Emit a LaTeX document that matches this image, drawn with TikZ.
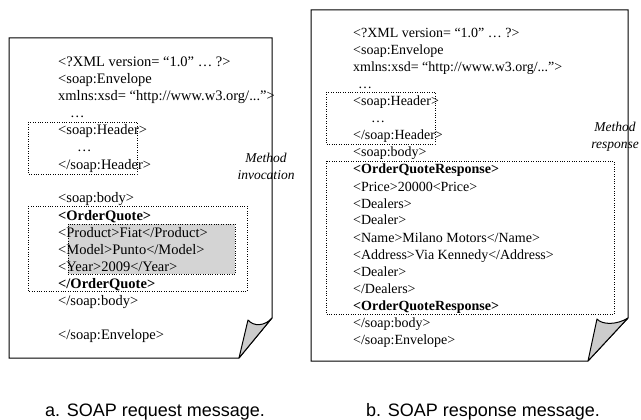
\documentclass[tikz,border=0pt]{standalone}
\usepackage{fontspec}
\setmainfont{Liberation Serif}
\newfontfamily\capfont{Liberation Sans}
\begin{document}
\begin{tikzpicture}[x=1pt, y=-1pt,
    xml/.style={anchor=base west, inner sep=0pt, font=\fontsize{14}{17}\selectfont},
    bigxml/.style={xml, font=\fontsize{14.5}{17}\selectfont},
    note/.style={inner sep=0pt, align=center, font=\fontsize{13.5}{17}\selectfont\itshape},
    caption/.style={anchor=base, inner sep=0pt, font=\fontsize{18}{20}\selectfont\capfont},
    page/.style={draw, line width=1pt, line join=miter},
    fold/.style={draw, line width=1pt, fill=black!20, line join=round},
    part/.style={draw, dotted, thin}]

    \useasboundingbox (0,0) rectangle (641,420);

    % request message
    \draw [page] (9,38) -- (272,38) -- (272,318) -- (239,358) -- (9,358) -- cycle;
    \draw [fold] (239,358) -- (248,320) .. controls (254,327) and (265,326) .. (272,318) -- cycle;

    \draw [part] (28,122) rectangle (137,174);
    \draw [part] (28,206) rectangle (247,291);
    \draw [part, fill=black!17] (68,224) rectangle (235,274);

    \foreach \t [count=\i] in {<?XML version= “1.0” … ?>, <soap:Envelope,
        {xmlns:xsd= “http://www.w3.org/{.}{.}{.}”>}, \hspace{12pt}…,
        <soap:Header>, \hspace{19pt}…, </soap:Header>}
    {
        \node [bigxml] (req\i) at (58, 50+17*\i) {\t};
    }

    \foreach \t [count=\i from 9] in {<soap:body>, \textbf{<OrderQuote>},
        <Product>Fiat</Product>, <Model>Punto</Model>, <Year>2009</Year>,
        \textbf{</OrderQuote>}, </soap:body>}
    {
        \node [bigxml] (req\i) at (58, 50+17*\i) {\t};
    }

    \node [bigxml] (req17) at (58, 339) {</soap:Envelope>};

    \node [note] (invoc) at (266, 166) {Method\\invocation};

    % response message
    \draw [page] (311,10) -- (628,10) -- (628,318) -- (588,361) -- (311,361) -- cycle;
    \draw [fold] (588,361) -- (597,319) .. controls (602,325) and (617,325) .. (628,318) -- cycle;

    \draw [part] (326,92) rectangle (435,144);
    \draw [part] (326,161) rectangle (614,314);

    \foreach \t [count=\i] in {<?XML version= “1.0” … ?>, <soap:Envelope,
        {xmlns:xsd= “http://www.w3.org/{.}{.}{.}”>}, \hspace{5pt}…,
        <soap:Header>, \hspace{18pt}…, </soap:Header>, <soap:body>,
        \textbf{<OrderQuoteResponse>}, <Price>20000<Price>, <Dealers>,
        <Dealer>, <Name>Milano Motors</Name>,
        <Address>Via Kennedy</Address>, <Dealer>, </Dealers>,
        \textbf{<OrderQuoteResponse>}, </soap:body>, </soap:Envelope>}
    {
        \node [xml] (res\i) at (353, 21+17*\i) {\t};
    }

    \node [note] (resp) at (615, 137) {Method\\response};

    \node [caption] (capreq) at (155, 416) {a. SOAP request message.};
    \node [caption] (capres) at (483, 416) {b. SOAP response message.};

\end{tikzpicture}
\end{document}
